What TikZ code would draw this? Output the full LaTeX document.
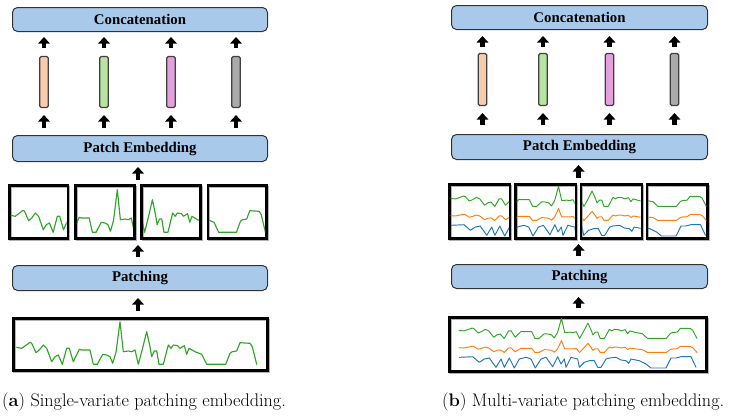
\documentclass[tikz,border=0pt]{standalone}
\usepackage{fontspec}
\newfontfamily\tnr{Liberation Serif}
\usetikzlibrary{arrows.meta,calc,shadows}
\definecolor{boxblue}{RGB}{169,201,235}
\definecolor{barpeach}{RGB}{248,203,173}
\definecolor{bargreen}{RGB}{183,228,161}
\definecolor{barpink}{RGB}{228,160,220}
\definecolor{bargray}{RGB}{170,170,170}
\definecolor{tsgreen}{RGB}{48,165,40}
\definecolor{tsorange}{RGB}{255,127,14}
\definecolor{tsblue}{RGB}{31,119,180}

\def\lgreen{(16.7,347.3) -- (21.7,348.3) -- (25,346) -- (30,342.3) -- (31.7,343.3) -- (36,352.7) -- (39.3,350) -- (43.3,345) -- (46.7,348.3) -- (51.7,361.7) -- (55,356.7) -- (58.3,355) -- (62.3,364.3) -- (66.7,348.3) -- (69.3,348.3) -- (73.3,361.7) -- (79.3,349.3) -- (81.7,350) -- (90,350) -- (93.3,364.3) -- (97.3,364.3) -- (102.7,354.3) -- (106.7,355) -- (110,356.7) -- (112.7,363.3) -- (116,352.3) -- (120,321.7) -- (123.3,351.7) -- (128.3,351) -- (131.7,351.7) -- (135,350) -- (138.3,364.3) -- (141.7,351.7) -- (146.7,331.7) -- (150,346.7) -- (151.7,356.7) -- (154.3,351) -- (156.7,351) -- (159,364.3) -- (163.3,364.3) -- (168.3,345) -- (171,348.3) -- (173.3,345) -- (177.7,345.7) -- (180,348.3) -- (184.3,345.7) -- (186.7,354.3) -- (189,348.3) -- (195,351.7) -- (201.7,354.3) -- (206.7,364.3) -- (225.7,364.3) -- (230,353.3) -- (232.3,351.7) -- (236.7,351) -- (240,342.7) -- (250,343.3) -- (252.3,346.7) -- (256.7,364.3)}

\def\rblue{(459.3,357.3) -- (472.7,356.7) -- (479.3,362.3) -- (484.3,359) -- (489.3,358) -- (496,367.3) -- (501,359) -- (504.3,367.3) -- (509.3,358) -- (514.3,368) -- (519.3,359) -- (526,357.3) -- (531,359) -- (535.3,368) -- (541,359) -- (546,357.3) -- (552.7,366.7) -- (557.7,356.7) -- (561,364) -- (564.3,359) -- (566,367.3) -- (571,357.3) -- (577.7,359) -- (579.3,367.3) -- (584.3,362.3) -- (589.3,360.7) -- (594.3,360.7) -- (597.7,367.3) -- (601,367.3) -- (606,359) -- (609.3,358) -- (616,357.3) -- (621,360) -- (626,360.7) -- (628.7,363.3) -- (631,359) -- (639.3,360.7) -- (646,364) -- (651,368) -- (666,368) -- (671,358) -- (676,358) -- (681,356.7) -- (691,356.7) -- (696,367.3)}

% left single-variate series
\newcommand\leftseries{\draw[ts, tsgreen] \lgreen;}
% right multi-variate series
\newcommand\rightseries{%
  \begin{scope}[shift={(442.44,167.2)}, xscale=0.99167, yscale=0.47]
    \draw[tsr, tsgreen] \lgreen;
  \end{scope}
  \begin{scope}[shift={(442.44,250.44)}, xscale=0.99167, yscale=0.28]
    \draw[tsr, tsorange] \lgreen;
  \end{scope}
  \draw[tsr, tsblue] \rblue;}

% #1 left, #2 right, #3 top, #4 bottom (outer frame), #5 seg start, #6 seg end, #7 drawing
\newcommand\segview[7]{%
  \begin{scope}
    \pgfmathsetmacro\svL{#1+2.6}\pgfmathsetmacro\svR{#2-2.6}
    \pgfmathsetmacro\svT{#3+2.6}\pgfmathsetmacro\svB{#4-2.6}
    \clip (\svL,\svT) rectangle (\svR,\svB);
    \pgfmathsetmacro\segsc{(\svR-\svL)/(#6-#5)}
    \pgfmathsetmacro\segsh{\svL-#5*\segsc}
    \begin{scope}[shift={(\segsh,-132)}, xscale=\segsc]
      #7
    \end{scope}
  \end{scope}}

\begin{document}
\begin{tikzpicture}[x=1pt, y=-1pt,
  blockbox/.style={draw=black!80, line width=1pt, fill=boxblue, rounded corners=5pt,
    inner sep=0pt, font=\tnr\bfseries\fontsize{14.8}{16}\selectfont},
  embbar/.style={draw=black!75, line width=1.1pt, rounded corners=1.5pt,
    minimum width=8.5pt, inner sep=0pt},
  frame/.style={draw=black, line width=2.6pt, inner sep=0pt,
    general shadow={draw=black!30, line width=2.2pt, shadow xshift=1.2pt, shadow yshift=-1.6pt}},
  uparrow/.style={line width=4.7pt, -{Triangle[width=11.5pt,length=6.5pt]}},
  ts/.style={line width=1.15pt, line join=round, line cap=round},
  tsr/.style={line width=0.95pt, line join=round, line cap=round},
  caption/.style={anchor=base west, inner sep=0pt, font=\fontsize{18.2}{20}\selectfont}]

\useasboundingbox (0,0) rectangle (730,416);

%================ LEFT PANEL =================
\node[blockbox, minimum width=255pt, minimum height=24pt] (lcat) at (140,19.5) {Concatenation};
\node[blockbox, minimum width=255pt, minimum height=26pt] (lpe) at (140,148.5) {Patch Embedding};
\node[blockbox, minimum width=255pt, minimum height=25pt] (lpat) at (140,278) {Patching};

\node[embbar, fill=barpeach, minimum height=51pt] (lb1) at (44,82) {};
\node[embbar, fill=bargreen, minimum height=51pt] (lb2) at (104,82) {};
\node[embbar, fill=barpink,  minimum height=51pt] (lb3) at (171,82) {};
\node[embbar, fill=bargray,  minimum height=51pt] (lb4) at (236,82) {};

% patch frames and contents
\node[frame, minimum width=58.65pt, minimum height=53.4pt] (lp1) at (38.6,212) {};
\node[frame, minimum width=58.65pt, minimum height=53.4pt] (lp2) at (104.9,212) {};
\node[frame, minimum width=58.65pt, minimum height=53.4pt] (lp3) at (171.1,212) {};
\node[frame, minimum width=58.65pt, minimum height=53.4pt] (lp4) at (237.4,212) {};
\segview{8}{69.25}{184}{240}{16.7}{76.7}{\leftseries}
\segview{74.25}{135.5}{184}{240}{76.7}{136.7}{\leftseries}
\segview{140.5}{201.75}{184}{240}{136.7}{196.7}{\leftseries}
\segview{206.75}{268}{184}{240}{196.7}{256.7}{\leftseries}

% full series
\node[frame, minimum width=254.4pt, minimum height=52.4pt] (lts) at (140.5,344.5) {};
\leftseries

\node[caption] (capa) at (2,406) {(\textbf{a}) Single-variate patching embedding.};

% arrows
\foreach \b in {lb1,lb2,lb3,lb4}{
  \draw[uparrow, shorten <=8pt, shorten >=5pt] (\b.north) -- (\b.north |- lcat.south);
  \draw[uparrow, shorten <=7pt, shorten >=7pt] (\b.south |- lpe.north) -- (\b.south);
}
\coordinate (lgapt) at ($(lp2.north east)!0.5!(lp3.north west)$);
\coordinate (lgapb) at ($(lp2.south east)!0.5!(lp3.south west)$);
\draw[uparrow, shorten <=4pt, shorten >=5pt] (lgapt) -- (lgapt |- lpe.south);
\draw[uparrow, shorten <=8pt, shorten >=5pt] (lgapb |- lpat.north) -- (lgapb);
\draw[uparrow, shorten <=6pt, shorten >=7pt] (lgapb |- lts.north) -- (lgapb |- lpat.south);

%================ RIGHT PANEL =================
\node[blockbox, minimum width=256pt, minimum height=24pt] (rcat) at (579.5,17.5) {Concatenation};
\node[blockbox, minimum width=256pt, minimum height=25pt] (rpe) at (579.5,147) {Patch Embedding};
\node[blockbox, minimum width=256pt, minimum height=24pt] (rpat) at (579.5,276.5) {Patching};

\node[embbar, fill=barpeach, minimum height=52pt] (rb1) at (482.5,79.5) {};
\node[embbar, fill=bargreen, minimum height=52pt] (rb2) at (543,79.5) {};
\node[embbar, fill=barpink,  minimum height=52pt] (rb3) at (609.5,79.5) {};
\node[embbar, fill=bargray,  minimum height=52pt] (rb4) at (674.5,79.5) {};

\node[frame, minimum width=60.8pt, minimum height=54.4pt] (rp1) at (479.7,211.5) {};
\node[frame, minimum width=60.8pt, minimum height=54.4pt] (rp2) at (545.6,211.5) {};
\node[frame, minimum width=60.8pt, minimum height=54.4pt] (rp3) at (611.5,211.5) {};
\node[frame, minimum width=60.8pt, minimum height=54.4pt] (rp4) at (677.3,211.5) {};
\segview{448}{511.4}{183}{240}{459}{518.5}{\rightseries}
\segview{513.9}{577.3}{183}{240}{518.5}{578}{\rightseries}
\segview{579.8}{643.1}{183}{240}{578}{637.5}{\rightseries}
\segview{645.6}{709}{183}{240}{637.5}{697}{\rightseries}

\node[frame, minimum width=257.4pt, minimum height=54.4pt] (rts) at (578,344.5) {};
\rightseries

\node[caption] (capb) at (442,406) {(\textbf{b}) Multi-variate patching embedding.};

\foreach \b in {rb1,rb2,rb3,rb4}{
  \draw[uparrow, shorten <=6pt, shorten >=6pt] (\b.north) -- (\b.north |- rcat.south);
  \draw[uparrow, shorten <=9pt, shorten >=7pt] (\b.south |- rpe.north) -- (\b.south);
}
\coordinate (rgapt) at ($(rp2.north east)!0.5!(rp3.north west)$);
\coordinate (rgapb) at ($(rp2.south east)!0.5!(rp3.south west)$);
\draw[uparrow, shorten <=5pt, shorten >=5pt] (rgapt) -- (rgapt |- rpe.south);
\draw[uparrow, shorten <=8pt, shorten >=4pt] (rgapb |- rpat.north) -- (rgapb);
\draw[uparrow, shorten <=8pt, shorten >=8pt] (rgapb |- rts.north) -- (rgapb |- rpat.south);

\end{tikzpicture}
\end{document}
